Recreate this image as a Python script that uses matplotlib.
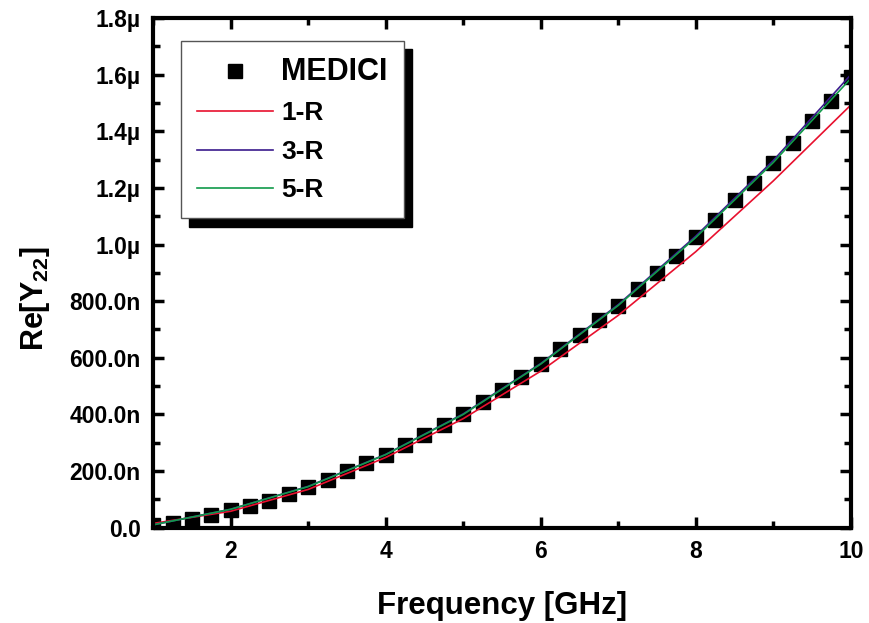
import matplotlib
matplotlib.use('Agg')
import matplotlib.pyplot as plt
from matplotlib.patches import Shadow

plt.rcParams['font.family'] = 'Liberation Sans'
plt.rcParams['font.weight'] = 'bold'
plt.rcParams['mathtext.fontset'] = 'custom'
plt.rcParams['mathtext.rm'] = 'Liberation Sans:bold'
plt.rcParams['mathtext.it'] = 'Liberation Sans:bold'
plt.rcParams['mathtext.bf'] = 'Liberation Sans:bold'

# Re[Y22] in micro-siemens
medici_freq = [1.0, 1.25, 1.5, 1.75, 2.0, 2.25, 2.5, 2.75, 3.0, 3.25, 3.5, 3.75,
               4.0, 4.25, 4.5, 4.75, 5.0, 5.25, 5.5, 5.75, 6.0, 6.25, 6.5, 6.75,
               7.0, 7.25, 7.5, 7.75, 8.0, 8.25, 8.5, 8.75, 9.0, 9.25, 9.5, 9.75, 10.0]
medici_re = [0.008, 0.018, 0.031, 0.046, 0.064, 0.076, 0.095, 0.118, 0.142, 0.168,
             0.201, 0.227, 0.256, 0.291, 0.329, 0.362, 0.401, 0.445, 0.488, 0.533,
             0.578, 0.631, 0.680, 0.733, 0.783, 0.842, 0.898, 0.959, 1.028, 1.087,
             1.157, 1.216, 1.287, 1.358, 1.437, 1.508, 1.591]

model_freq = [1, 2, 3, 4, 5, 6, 7, 8, 9, 10]
re_1r = [0.015, 0.058, 0.135, 0.248, 0.385, 0.553, 0.750, 0.975, 1.225, 1.493]
re_3r = [0.010, 0.065, 0.146, 0.259, 0.402, 0.580, 0.788, 1.030, 1.297, 1.600]
re_5r = [0.010, 0.065, 0.145, 0.258, 0.400, 0.578, 0.785, 1.025, 1.290, 1.587]

x_ticks = [2, 4, 6, 8, 10]
y_ticks = [0.0, 0.2, 0.4, 0.6, 0.8, 1.0, 1.2, 1.4, 1.6, 1.8]
y_labels = ['0.0', '200.0n', '400.0n', '600.0n', '800.0n',
            '1.0\u00b5', '1.2\u00b5', '1.4\u00b5', '1.6\u00b5', '1.8\u00b5']

fig = plt.figure(figsize=(8.7, 6.23), dpi=100)
ax = fig.add_axes([0.176, 0.153, 0.802, 0.818])

ax.plot(medici_freq, medici_re, 's', color='black', markersize=9.5, label='MEDICI')
ax.plot(model_freq, re_1r, color='#e8102e', lw=1.2, label='1-R')
ax.plot(model_freq, re_3r, color='#3a1a8c', lw=1.2, label='3-R')
ax.plot(model_freq, re_5r, color='#119a4a', lw=1.2, label='5-R')

ax.set_xlim(1, 10)
ax.set_ylim(0, 1.8)
ax.set_xticks(x_ticks)
ax.set_xticks([1, 3, 5, 7, 9], minor=True)
ax.set_yticks(y_ticks)
ax.set_yticklabels(y_labels)
ax.set_yticks([0.1, 0.3, 0.5, 0.7, 0.9, 1.1, 1.3, 1.5, 1.7], minor=True)
ax.tick_params(which='both', direction='in', top=True, right=True,
               labelsize=16.5, width=2.5, pad=9)
ax.tick_params(which='major', length=8)
ax.tick_params(which='minor', length=5)
for sp in ax.spines.values():
    sp.set_linewidth(3)

ax.set_xlabel('Frequency [GHz]', fontsize=22.5, fontweight='bold', labelpad=20)
ax.set_ylabel('Re[Y$_{22}$]', fontsize=22, fontweight='bold')
ax.yaxis.set_label_coords(-0.145, 0.45)

leg = ax.legend(loc='upper left', bbox_to_anchor=(0.04, 0.955), fontsize=19,
                fancybox=False, framealpha=1, edgecolor='#555555',
                handlelength=2.9, handletextpad=0.3, labelspacing=0.55,
                borderpad=0.6, borderaxespad=0)
leg.get_frame().set_linewidth(1)
leg.get_texts()[0].set_fontsize(22)

fig.canvas.draw()
shadow = Shadow(leg.legendPatch, 6, -6, color='black', alpha=1)
shadow.set_zorder(leg.get_zorder() - 0.5)
ax.add_artist(shadow)

fig.savefig('out.png', dpi=100)
